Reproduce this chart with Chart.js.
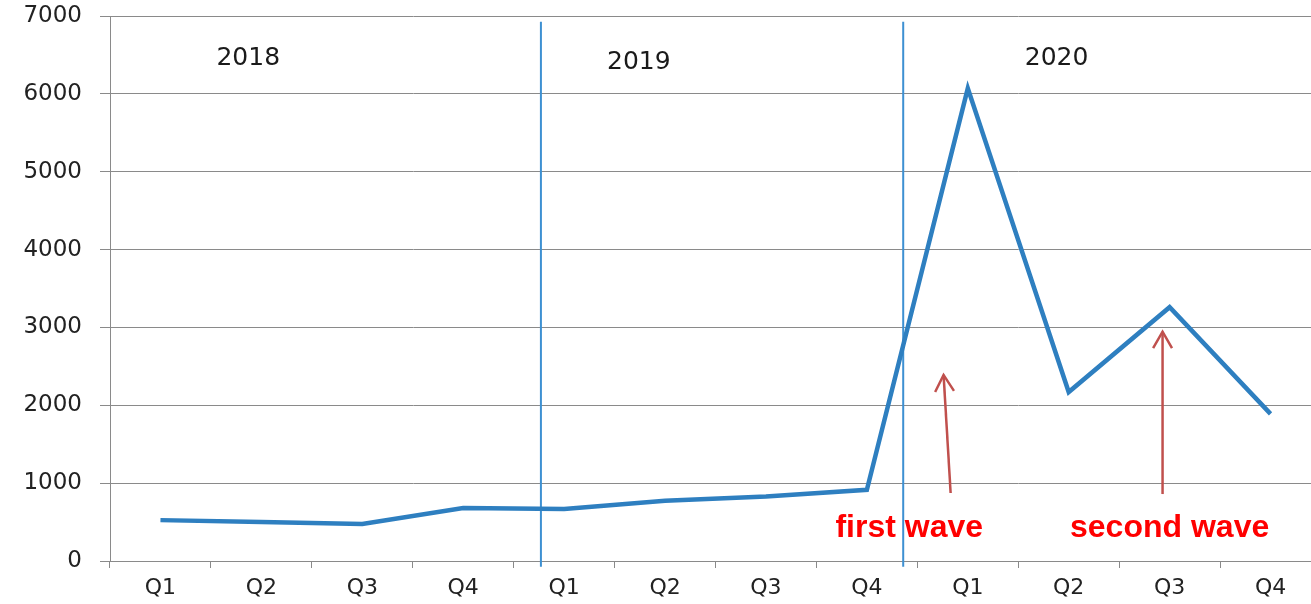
<!DOCTYPE html>
<html>
<head>
<meta charset="utf-8">
<script src="https://cdn.jsdelivr.net/npm/chart.js@4.4.1/dist/chart.umd.min.js"></script>
<style>
  body { margin: 0; background: #fff; overflow: hidden; }
  #wrap { width: 1311px; height: 604px; overflow: hidden; }
</style>
</head>
<body>
<div id="wrap"><canvas id="quarterChart" width="1321" height="604"></canvas></div>
<script>
const QUARTER_LABELS = ["Q1", "Q2", "Q3", "Q4", "Q1", "Q2", "Q3", "Q4", "Q1", "Q2", "Q3", "Q4"];
const QUARTER_VALUES = [525, 500, 475, 680, 668, 775, 830, 915, 6070, 2170, 3260, 1890];
const Y_TICKS = [0, 1000, 2000, 3000, 4000, 5000, 6000, 7000];

const YEAR_NAMES = ["2018", "2019", "2020"];
// year label anchors, in (category index, value) units
const YEAR_ANCHORS = [[0.87, 6370], [4.74, 6320], [8.88, 6370]];
// year dividers, category index units
const DIVIDERS = [3.77, 7.36];

const WAVE_NAMES = ["first wave", "second wave"];
const WAVE_TEXT_AT = [[7.42, 308], [10.0, 308]];
// arrows: [x from, value from, x to, value to]
const WAVE_ARROWS = [[7.83, 873, 7.76, 2390], [9.93, 860, 9.93, 2945]];

const GRID = "#8a8a8a";
const LINE_BLUE = "#2e7fc0";

const extrasPlugin = {
  id: "extras",
  beforeDatasetsDraw(chart) {
    const { ctx, scales: { x, y } } = chart;
    ctx.save();
    ctx.strokeStyle = "#3d90d2";
    ctx.lineWidth = 2;
    DIVIDERS.forEach((d) => {
      const px = x.getPixelForValue(d);
      ctx.beginPath();
      ctx.moveTo(px, y.getPixelForValue(6925));
      ctx.lineTo(px, y.getPixelForValue(-75));
      ctx.stroke();
    });
    ctx.restore();
  },
  afterDatasetsDraw(chart) {
    const { ctx, scales: { x, y } } = chart;
    ctx.save();

    ctx.fillStyle = "#1a1a1a";
    ctx.font = "25px 'DejaVu Sans'";
    ctx.textAlign = "center";
    ctx.textBaseline = "alphabetic";
    YEAR_NAMES.forEach((name, i) => {
      const [cx, cy] = YEAR_ANCHORS[i];
      ctx.fillText(name, x.getPixelForValue(cx), y.getPixelForValue(cy));
    });

    ctx.fillStyle = "#ff0000";
    ctx.font = "bold 32px 'Liberation Sans'";
    WAVE_NAMES.forEach((name, i) => {
      const [cx, cy] = WAVE_TEXT_AT[i];
      ctx.fillText(name, x.getPixelForValue(cx), y.getPixelForValue(cy));
    });

    ctx.strokeStyle = "#c0504d";
    ctx.lineWidth = 2.5;
    WAVE_ARROWS.forEach(([x0, v0, x1, v1]) => {
      const ax = x.getPixelForValue(x0), ay = y.getPixelForValue(v0);
      const bx = x.getPixelForValue(x1), by = y.getPixelForValue(v1);
      ctx.beginPath();
      ctx.moveTo(ax, ay);
      ctx.lineTo(bx, by);
      ctx.stroke();
      const ang = Math.atan2(by - ay, bx - ax);
      ctx.beginPath();
      ctx.moveTo(bx - 19 * Math.cos(ang - 0.52), by - 19 * Math.sin(ang - 0.52));
      ctx.lineTo(bx, by);
      ctx.lineTo(bx - 19 * Math.cos(ang + 0.52), by - 19 * Math.sin(ang + 0.52));
      ctx.stroke();
    });
    ctx.restore();
  }
};

new Chart(document.getElementById("quarterChart"), {
  type: "line",
  data: {
    labels: QUARTER_LABELS,
    datasets: [{
      data: QUARTER_VALUES,
      borderColor: LINE_BLUE,
      borderWidth: 4.5,
      pointRadius: 0,
      tension: 0,
      fill: false
    }]
  },
  options: {
    responsive: false,
    animation: false,
    layout: { padding: { top: 16, right: 0, left: 0, bottom: 0 } },
    plugins: { legend: { display: false }, tooltip: { enabled: false } },
    scales: {
      x: {
        type: "category",
        offset: true,
        grid: { offset: true, drawOnChartArea: false, color: GRID, tickLength: 7 },
        border: { color: GRID },
        ticks: { color: "#222", font: { family: "DejaVu Sans", size: 22 }, padding: 7, maxRotation: 0 },
        afterFit(scale) {
          scale.height = 43;
          scale.paddingLeft = 0;
          scale.paddingRight = 0;
        }
      },
      y: {
        min: 0,
        max: 7000,
        afterBuildTicks(scale) { scale.ticks = Y_TICKS.map((v) => ({ value: v })); },
        grid: { color: GRID, tickLength: 10 },
        border: { color: GRID },
        ticks: {
          color: "#222",
          font: { family: "DejaVu Sans", size: 23 },
          padding: 18,
          callback: (v) => String(v)
        },
        afterFit(scale) {
          scale.width = 110;
          scale.paddingTop = 0;
          scale.paddingBottom = 0;
        }
      }
    }
  },
  plugins: [extrasPlugin]
});
</script>
</body>
</html>
